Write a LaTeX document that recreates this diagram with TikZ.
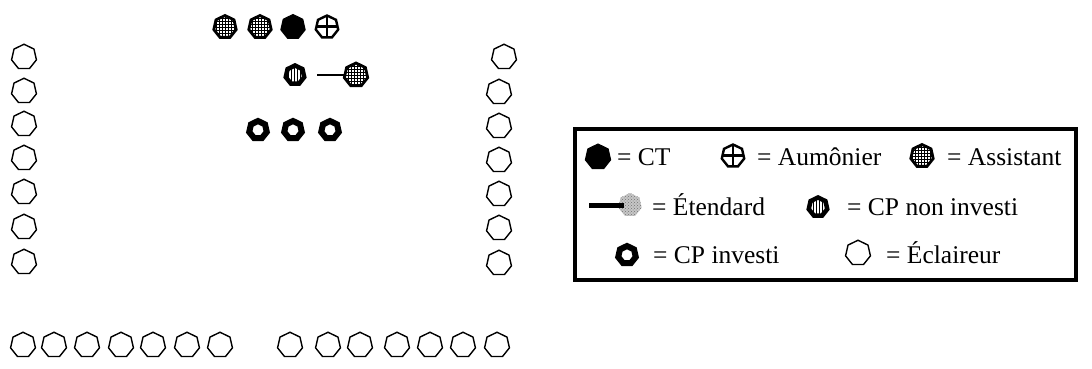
\documentclass[tikz,border=0pt]{standalone}
\usepackage{fontspec}
\setmainfont{Liberation Serif}
\usetikzlibrary{shapes.geometric,patterns}
\begin{document}
\begin{tikzpicture}[x=1pt,y=-1pt,
  hepta/.style={regular polygon,regular polygon sides=7,inner sep=0pt,outer sep=0pt},
  scout/.style={hepta,draw,line width=1.4pt,minimum size=25.5pt},
  ct/.style={hepta,fill=black,draw,line width=1pt,minimum size=25pt},
  assist/.style={hepta,draw,line width=2.8pt,pattern=grid,minimum size=23pt},
  aumon/.style={hepta,draw,line width=2.4pt,minimum size=23pt,
    path picture={\draw[line width=2.4pt] (path picture bounding box.north) -- (path picture bounding box.south)
      (path picture bounding box.west) -- (path picture bounding box.east);}},
  cpi/.style={hepta,draw,line width=6pt,minimum size=18pt},
  cpn/.style={hepta,draw,line width=4.5pt,pattern=vertical lines,minimum size=19pt},
  flag/.style={hepta,draw,line width=2.8pt,pattern=grid,minimum size=24pt},
  gflag/.style={hepta,preaction={fill=gray!45},pattern=crosshatch dots,pattern color=gray!90!black,minimum size=24pt},
  pole/.style={line width=2pt},
  lbl/.style={anchor=base west,inner sep=0pt,font=\fontsize{25.5}{30}\selectfont}
]
\useasboundingbox (0,0) rectangle (1092,369);

% left column
\foreach \y [count=\i] in {57,91,124,158,192,227,262}
  \node[scout] (l\i) at (24,\y) {};
% right column
\node[scout] (r1) at (504,57) {};
\foreach \y [count=\i from 2] in {92,126,160,194,228,263}
  \node[scout] (r\i) at (499,\y) {};
% bottom row
\foreach \x [count=\i] in {23,54,87,121,153,187,220,290,328,360,397,430,463,497}
  \node[scout] (b\i) at (\x,345) {};

% top staff
\node[assist] (as1) at (225,27) {};
\node[assist] (as2) at (260,27) {};
\node[ct] (ct) at (293,27) {};
\node[aumon] (au) at (327,27) {};

% row 2
\node[cpn] (cpn) at (295,75) {};
\node[flag] (et) at (356,75) {};
\coordinate (poleend) at (317,75);
\draw[pole] (poleend) -- (et.west);

% row 3
\node[cpi] (cp1) at (258,130) {};
\node[cpi] (cp2) at (293,130) {};
\node[cpi] (cp3) at (330,130) {};

% legend
\node[draw,line width=4pt,minimum width=501pt,minimum height=151pt,anchor=north west,inner sep=0pt] (leg) at (572.5,126.5) {};

\node[ct,minimum size=26pt] (lct) at (598,157) {};
\node[lbl] (tct) at (617,165) {= CT};
\node[aumon] (lau) at (733,156) {};
\node[lbl] (tau) at (757,165) {= Aumônier};
\node[assist] (las) at (922,156) {};
\node[lbl] (tas) at (947,165) {= Assistant};

\node[gflag] (let) at (630,205) {};
\coordinate (lpole) at (589,205);
\draw[line width=5pt] (lpole) -- ([xshift=-6pt]let.center);
\node[lbl] (tet) at (652,215) {= Étendard};
\node[cpn] (lcpn) at (818,207) {};
\node[lbl] (tcpn) at (847,215) {= CP non investi};

\node[cpi] (lcpi) at (627,255) {};
\node[lbl] (tcpi) at (653,263) {= CP investi};
\node[scout] (lsc) at (858,253) {};
\node[lbl] (tsc) at (886,263) {= Éclaireur};
\end{tikzpicture}
\end{document}
